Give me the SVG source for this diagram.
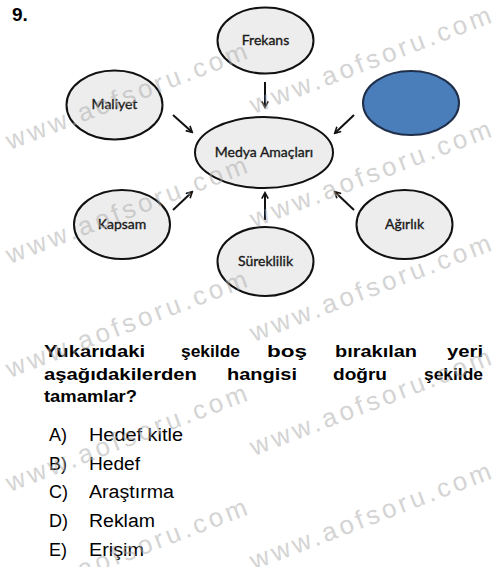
<svg xmlns="http://www.w3.org/2000/svg" width="500" height="567" viewBox="0 0 500 567">
<style>
.node ellipse{fill:#ededed;stroke:#111;stroke-width:2}
.node text{font-family:Lato,"Open Sans","Liberation Sans",sans-serif;font-size:14px;fill:#1a1a1a;stroke:#1a1a1a;stroke-width:0.35;text-anchor:middle}
.conn line{stroke:#111;stroke-width:2;marker-end:url(#ah)}
.q{font-family:"Liberation Sans",Arial,sans-serif;font-weight:bold;font-size:17px;fill:#000}
.opt{font-family:"Liberation Sans",Arial,sans-serif;font-size:18px;fill:#000}
.wm{font-family:"Liberation Sans",Arial,sans-serif;font-size:26px;fill:#aaa;opacity:0.5}
</style>
<defs>
<marker id="ah" viewBox="0 0 10 10" refX="8" refY="5" markerWidth="4" markerHeight="4" orient="auto" markerUnits="strokeWidth">
<path d="M1,1 L8.5,5 L1,9" fill="none" stroke="#111" stroke-width="2"/>
</marker>
</defs>
<rect width="500" height="567" fill="#fff"/>
<text x="12" y="21" font-family="Liberation Sans,Arial,sans-serif" font-weight="bold" font-size="19">9.</text>

<g class="conn">
<line x1="265" y1="82" x2="265" y2="107"/>
<line x1="173" y1="115" x2="192" y2="132"/>
<line x1="354" y1="115" x2="335" y2="133"/>
<line x1="173" y1="210" x2="192" y2="192"/>
<line x1="265" y1="220" x2="265" y2="193"/>
<line x1="354" y1="210" x2="335" y2="192"/>
</g>

<g id="frekans" class="node"><ellipse cx="265.5" cy="40.5" rx="48" ry="33"/><text x="265.5" y="45">Frekans</text></g>
<g id="maliyet" class="node"><ellipse cx="114.5" cy="105" rx="48" ry="34.5"/><text x="114.5" y="109">Maliyet</text></g>
<g id="medya" class="node"><ellipse cx="264" cy="152.5" rx="69" ry="35.5"/><text x="264" y="157">Medya Amaçları</text></g>
<g id="bos" class="node"><ellipse cx="411" cy="103" rx="48" ry="32" style="fill:#4a7ebb;stroke:#1f2f4a"/></g>
<g id="kapsam" class="node"><ellipse cx="122" cy="224.5" rx="48" ry="34.5"/><text x="122" y="229">Kapsam</text></g>
<g id="sureklilik" class="node"><ellipse cx="265.5" cy="261.5" rx="48" ry="34.5"/><text x="265.5" y="266">Süreklilik</text></g>
<g id="agirlik" class="node"><ellipse cx="404.5" cy="224.5" rx="48" ry="34.5"/><text x="404.5" y="229">Ağırlık</text></g>

<g id="question">
<text class="q" x="44" y="357" textLength="101" lengthAdjust="spacingAndGlyphs">Yukarıdaki</text>
<text class="q" x="181" y="357" textLength="59" lengthAdjust="spacingAndGlyphs">şekilde</text>
<text class="q" x="267" y="357" textLength="40" lengthAdjust="spacingAndGlyphs">boş</text>
<text class="q" x="335" y="357" textLength="82" lengthAdjust="spacingAndGlyphs">bırakılan</text>
<text class="q" x="447" y="357" textLength="36" lengthAdjust="spacingAndGlyphs">yeri</text>
<text class="q" x="44" y="380" textLength="153" lengthAdjust="spacingAndGlyphs">aşağıdakilerden</text>
<text class="q" x="227" y="380" textLength="70" lengthAdjust="spacingAndGlyphs">hangisi</text>
<text class="q" x="333" y="380" textLength="54" lengthAdjust="spacingAndGlyphs">doğru</text>
<text class="q" x="424" y="380" textLength="59" lengthAdjust="spacingAndGlyphs">şekilde</text>
<text class="q" x="44" y="402" textLength="93" lengthAdjust="spacingAndGlyphs">tamamlar?</text>
</g>

<g id="options">
<text class="opt" x="49" y="441">A)</text><text class="opt" x="89" y="441" textLength="94" lengthAdjust="spacingAndGlyphs">Hedef kitle</text>
<text class="opt" x="49" y="470">B)</text><text class="opt" x="89" y="470" textLength="51" lengthAdjust="spacingAndGlyphs">Hedef</text>
<text class="opt" x="49" y="498">C)</text><text class="opt" x="89" y="498" textLength="85" lengthAdjust="spacingAndGlyphs">Araştırma</text>
<text class="opt" x="49" y="527">D)</text><text class="opt" x="89" y="527" textLength="66" lengthAdjust="spacingAndGlyphs">Reklam</text>
<text class="opt" x="49" y="556">E)</text><text class="opt" x="89" y="556" textLength="55" lengthAdjust="spacingAndGlyphs">Erişim</text>
</g>

<g id="watermarks">
<text class="wm" transform="translate(10,150) rotate(-21)" textLength="256" lengthAdjust="spacing">www.aofsoru.com</text>
<text class="wm" transform="translate(10,264) rotate(-21)" textLength="256" lengthAdjust="spacing">www.aofsoru.com</text>
<text class="wm" transform="translate(10,378) rotate(-21)" textLength="256" lengthAdjust="spacing">www.aofsoru.com</text>
<text class="wm" transform="translate(10,492) rotate(-21)" textLength="256" lengthAdjust="spacing">www.aofsoru.com</text>
<text class="wm" transform="translate(10,606) rotate(-21)" textLength="256" lengthAdjust="spacing">www.aofsoru.com</text>
<text class="wm" transform="translate(254,114) rotate(-21)" textLength="256" lengthAdjust="spacing">www.aofsoru.com</text>
<text class="wm" transform="translate(254,228) rotate(-21)" textLength="256" lengthAdjust="spacing">www.aofsoru.com</text>
<text class="wm" transform="translate(254,342) rotate(-21)" textLength="256" lengthAdjust="spacing">www.aofsoru.com</text>
<text class="wm" transform="translate(254,456) rotate(-21)" textLength="256" lengthAdjust="spacing">www.aofsoru.com</text>
<text class="wm" transform="translate(254,570) rotate(-21)" textLength="256" lengthAdjust="spacing">www.aofsoru.com</text>
</g>
</svg>
